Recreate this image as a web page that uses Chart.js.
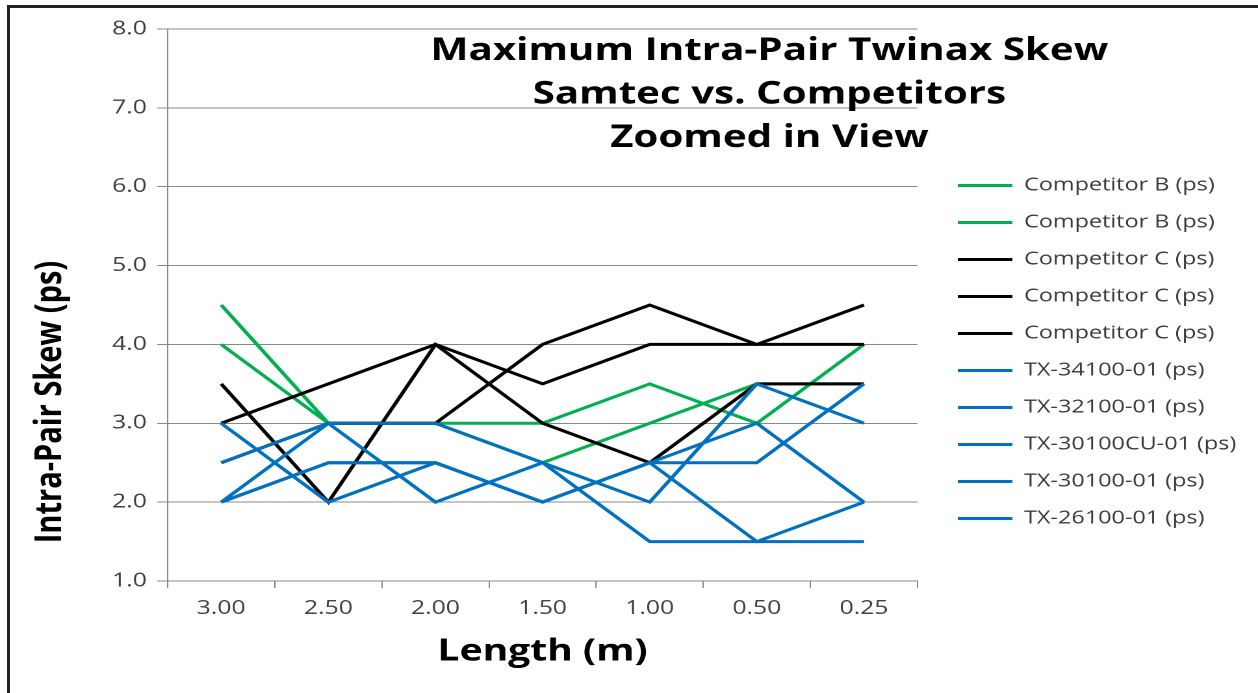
<!DOCTYPE html>
<html>
<head>
<meta charset="utf-8">
<script src="https://cdn.jsdelivr.net/npm/chart.js@4/dist/chart.umd.min.js"></script>
<style>
   html, body { margin: 0; padding: 0; background: #fff; overflow: hidden; }
   /* the reference is an Excel export that got stretched sideways, so draw narrow and scale X */
   #wrap { position: absolute; left: 0; top: 0; width: 968px; height: 693px; transform: scaleX(1.2996); transform-origin: 0 0; }
   #frame { position: absolute; left: 7px; top: 5px; width: 1300px; height: 800px; border-left: 3px solid #222; border-top: 3px solid #222; pointer-events: none; }
</style>
</head>
<body>
<div id="wrap"><canvas id="chart"></canvas></div>
<div id="frame"></div>
<script>
const lengths = ['3.00', '2.50', '2.00', '1.50', '1.00', '0.50', '0.25'];

const compB1 = [4.5, 3.0, 3.0, 3.0, 3.5, 3.0, 4.0];
const compB2 = [4.0, 3.0, 3.0, 2.5, 3.0, 3.5, 3.5];
const compC1 = [3.0, 3.5, 4.0, 3.5, 4.0, 4.0, 4.0];
const compC2 = [3.5, 2.0, 4.0, 3.0, 2.5, 3.5, 3.5];
const compC3 = [2.5, 3.0, 3.0, 4.0, 4.5, 4.0, 4.5];
const tx34100 = [3.0, 2.0, 2.5, 2.0, 2.5, 2.5, 3.5];
const tx32100 = [2.0, 2.5, 2.5, 2.0, 2.5, 3.0, 2.0];
const tx30100cu = [2.0, 2.5, 2.5, 2.0, 2.5, 1.5, 2.0];
const tx30100 = [2.5, 3.0, 3.0, 2.5, 2.0, 3.5, 3.0];
const tx26100 = [2.0, 3.0, 2.0, 2.5, 1.5, 1.5, 1.5];

const yTicks = [1, 2, 3, 4, 5, 6, 7, 8];

const titleLines = ['Maximum Intra-Pair Twinax Skew', 'Samtec vs. Competitors', 'Zoomed in View'];
const yTitle = 'Intra-Pair Skew (ps)';
const xTitle = 'Length (m)';

const GREEN = '#00B050';
const BLACK = '#000000';
const BLUE = '#0070C0';
const FONT = '"Open Sans", sans-serif';

function series(label, data, color, order){
   return {
      label: label,
      data: data,
      borderColor: color,
      backgroundColor: color,
      borderWidth: 3,
      pointRadius: 0,
      tension: 0,
      // lower order is drawn last, so the Samtec lines sit on top like in Excel
      order: order
   };
}

// title block sits inside the plot and the y title is off-centre, so draw both by hand
const textPlugin = {
   id: 'textPlugin',
   afterDraw(chart){
      let ctx = chart.ctx;
      ctx.save();
      ctx.fillStyle = '#000';
      ctx.textAlign = 'center';
      ctx.textBaseline = 'alphabetic';
      ctx.font = `bold 31px ${FONT}`;
      titleLines.forEach((line, i) => ctx.fillText(line, 592, 60 + i * 43.5));

      ctx.translate(38.5, 402);
      ctx.rotate(-Math.PI / 2);
      ctx.textBaseline = 'middle';
      ctx.font = `bold 29px ${FONT}`;
      ctx.fillText(yTitle, 0, 0);
      ctx.restore();
   }
};

// layout caps a side box at a quarter of the width, which would cut the legend text
const legendWidthPlugin = {
   id: 'legendWidth',
   afterInit(chart){
      let legend = chart.legend;
      let fit = legend.fit;
      legend.fit = function(){
         fit.call(this);
         this.width = 250;
      };
   }
};

let data = {
   labels: lengths,
   datasets: [
      series('Competitor B (ps)', compB1, GREEN, 3),
      series('Competitor B (ps)', compB2, GREEN, 3),
      series('Competitor C (ps)', compC1, BLACK, 2),
      series('Competitor C (ps)', compC2, BLACK, 2),
      series('Competitor C (ps)', compC3, BLACK, 2),
      series('TX-34100-01 (ps)', tx34100, BLUE, 1),
      series('TX-32100-01 (ps)', tx32100, BLUE, 1),
      series('TX-30100CU-01 (ps)', tx30100cu, BLUE, 1),
      series('TX-30100-01 (ps)', tx30100, BLUE, 1),
      series('TX-26100-01 (ps)', tx26100, BLUE, 1)
   ]
};

let options = {
   responsive: true,
   maintainAspectRatio: false,
   animation: false,
   devicePixelRatio: 2,
   layout: {
      padding: {left: 14, right: 0, top: 29, bottom: 18}
   },
   plugins: {
      tooltip: {enabled: false},
      legend: {
         position: 'right',
         labels: {
            boxWidth: 42,
            boxHeight: 3,
            padding: 19,
            color: '#3a3a3a',
            font: {family: FONT, size: 18},
            sort: (a, b) => a.datasetIndex - b.datasetIndex,
            generateLabels: (chart) => Chart.defaults.plugins.legend.labels.generateLabels(chart)
               .map(item => Object.assign(item, {lineWidth: 0}))
         }
      }
   },
   scales: {
      x: {
         offset: true,
         grid: {offset: true, drawOnChartArea: false, color: '#888', tickLength: 7},
         border: {color: '#888'},
         ticks: {color: '#404040', font: {family: FONT, size: 19}, padding: 9, maxRotation: 0},
         title: {display: true, text: xTitle, color: '#000', font: {family: FONT, size: 30, weight: 'bold'}, padding: {top: 0, bottom: 5}},
         afterFit: (scale) => { scale.height = 94; }
      },
      y: {
         min: yTicks[0],
         max: yTicks[yTicks.length - 1],
         afterBuildTicks: (scale) => { scale.ticks = yTicks.map(v => ({value: v})); },
         grid: {color: '#888', tickLength: 8},
         border: {color: '#888'},
         ticks: {color: '#404040', font: {family: FONT, size: 19}, padding: 8, callback: (v) => Number(v).toFixed(1)},
         afterFit: (scale) => { scale.width = 115; }
      },
      // empty spacer so the legend keeps its gap from the plot
      gap: {
         position: 'right',
         display: true,
         grid: {display: false},
         border: {display: false},
         ticks: {display: false},
         afterFit: (scale) => { scale.width = 12; }
      }
   }
};

new Chart(document.getElementById('chart').getContext('2d'), {
   type: 'line',
   data: data,
   options: options,
   plugins: [textPlugin, legendWidthPlugin]
});
</script>
</body>
</html>
